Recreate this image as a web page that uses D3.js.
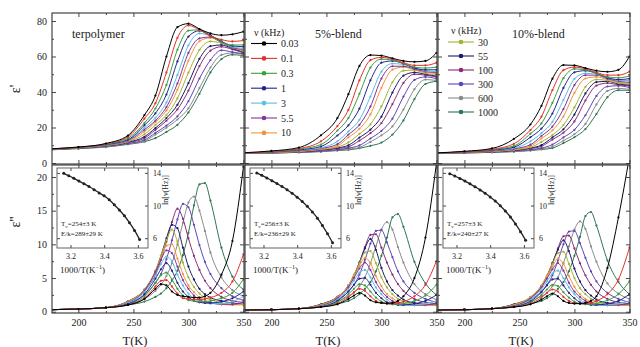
<!DOCTYPE html>
<html><head><meta charset="utf-8">
<script src="https://cdn.jsdelivr.net/npm/d3@7"></script>
<style>body{margin:0;background:#fff}svg text{font-family:"Liberation Serif","DejaVu Serif",serif;fill:#222}</style>
</head><body><svg id="c" width="640" height="347"></svg>
<script>
// ---------- data ----------
const freqLabels = ["0.03","0.1","0.3","1","3","5.5","10","30","55","100","300","600","1000"];
const colors = ["#000000","#e3312f","#3b9e3b","#24248f","#5bbde2","#85349a","#f2923e","#a3b232","#1c1c6a","#8b2a78","#5f45b5","#8a8a8a","#2e7650"];
const panelNames = ["terpolymer","5%-blend","10%-blend"];
const xTicks = [200,250,300,350];
const yTicksReal = [0,20,40,60,80];
const yTicksLoss = [0,5,10,15,20];
const insetXTicks = [3.2,3.4,3.6];
const insetYTicks = [6,10,14];
const tvText = ["254±3 K","256±3 K","257±3 K"];
const ekText = ["289±29 K","236±29 K","240±27 K"];

const tempReal = [175,200,225,245,260,270,280,290,300,310,320,330,340,350];
const tempLoss = [175,200,225,245,260,270,275,280,285,290,295,300,305,310,315,320,330,340,350];

const terpolymerReal = [
 [8,9,11,15.5,27,38,60,76.5,78.5,75.5,73,72,72.5,74],
 [8,8.9,10.8,14.7,25,33.7,51,70.5,77.5,75,71.5,69.5,68.5,69],
 [8,8.8,10.6,13.9,22.6,30.7,44,63.8,74.6,75,71.5,68,66.5,66.5],
 [7.9,8.8,10.4,13.1,21.3,28,38.6,57.2,71.2,74.5,72,68.5,66,65.5],
 [7.9,8.7,10.2,12.9,19.9,25.5,34.1,49.6,66.3,73,71.5,68,65.5,64.5],
 [7.8,8.7,10.1,12.6,18.8,23.9,31.5,44.8,62,70.2,71,68,65,64],
 [7.8,8.6,10,12.2,17.7,23,29.6,41.2,57.6,68.6,70.5,68,65,63.5],
 [7.7,8.5,9.8,12,16.2,21.4,27,36.4,50.9,63.7,68.5,67.5,65,63],
 [7.7,8.5,9.7,11.7,14.8,19.7,25.3,32.8,45,58.7,65.8,66.5,64.5,62.5],
 [7.6,8.4,9.6,11.5,14,18.7,23.8,30.2,40.8,54.6,63.3,65.5,64,62],
 [7.6,8.3,9.4,11,13,17,21.1,26.3,34.8,47.6,58,63.5,62.5,61.5],
 [7.5,8.2,9.2,10.8,12.4,16,19.9,24.5,30.8,42.2,53.8,60.9,62,61],
 [7.4,8.1,9,10.5,12,14,17.5,21.5,28.5,39,51,58.5,61,60.5]
];
const blend5Real = [
 [5.8,6.8,8.7,15.6,25.3,38.8,54.7,60.8,60.5,59,57.5,57,57.5,62],
 [5.7,6.5,8.1,12.2,20.8,29.9,46.6,57.9,59.5,58.5,56.5,55,55,56.5],
 [5.7,6.3,7.8,10.4,18.3,25.3,39,53.7,58.5,58,56,54,53.5,54],
 [5.7,6.2,7.4,9.3,15.5,21.2,30.6,46.6,56.5,57.5,56,53.5,52.5,52.5],
 [5.7,6.1,7.2,8.6,12.2,17.8,24.3,37.4,51.5,56,55.5,53.5,52,51.5],
 [5.7,6,6.9,8.2,10.6,16,21.5,31.8,47.6,54.5,54.5,53,51.5,51],
 [5.7,5.9,6.7,7.8,9.7,14.4,19.2,27.4,42.4,52.6,54,52.5,51,50.5],
 [5.7,5.8,6.4,7.6,9,11.6,16.4,21.8,31.9,45.5,52,52.3,50.5,49.5],
 [5.7,5.8,6.3,7.4,8.5,10,14.3,18.8,26.1,39.7,49.2,51,50,49],
 [5.7,5.8,6.2,7.2,8.1,9.1,12.6,16.8,22.5,33.2,45.1,50,49.5,48.5],
 [5.7,5.7,6.1,6.7,7.5,8.4,9.9,13.8,18.1,25,37.4,46.8,48.5,47.5],
 [5.7,5.7,6,6.5,7.2,7.9,8.8,11.9,15.6,20.6,30.1,41.6,47,46.5],
 [5.7,5.7,6,6.4,7,7.4,8.3,9.7,11.5,16,24,36,44.5,46]
];
const blend10Real = [
 [5.7,6.6,8.2,13.6,21.7,32.2,47.5,55.2,55,53.5,52,51.4,52.5,60],
 [5.7,6.4,7.7,10.8,18.6,26.1,41.1,52.3,54,53,51,49.5,49.5,51.5],
 [5.7,6.2,7.5,9.6,16.5,22.3,33.9,47.8,53,52.5,50.5,48.5,48,49],
 [5.7,6.2,7.2,8.9,14.5,19.4,27.9,42.3,51.1,52,50.5,48,47,47.5],
 [5.7,6.1,7.1,8.4,12.2,16.8,23.2,35.5,47.4,50.5,50,48,46.5,46.5],
 [5.7,6,6.8,8,10.3,15.2,20.5,30.4,43.9,49.5,49.5,47.5,46,45.5],
 [5.7,6,6.6,7.6,9.5,13.8,18.4,26.2,39.5,47.6,48.5,47,45.5,45],
 [5.7,5.9,6.4,7.4,8.8,11.9,15.8,21.4,31.3,42.9,47,46.5,45,44.5],
 [5.7,5.9,6.3,7.2,8.4,10.1,14.4,19,27.3,39.2,45.6,46,44.5,44],
 [5.7,5.8,6.2,7.1,8.1,9.4,13.2,17.1,23.4,35.2,43.6,45,44,43.5],
 [5.7,5.8,6.1,6.9,7.5,8.4,10.4,14.4,18.7,26.9,37.8,43.1,43.5,42.5],
 [5.7,5.7,6.1,6.5,7.2,8,9.2,12.6,16.2,22,33,40.6,42,41.5],
 [5.7,5.7,6,6.4,7,7.6,8.4,11.2,14.5,19.1,27.6,37.1,41,41]
];
const terpolymerLoss = [
 [0.3,0.4,0.6,1.0,1.9,3.4,4.1,3.9,3.0,2.5,2.3,2.2,2.1,2.1,2.3,2.8,5.5,10.5,21.5],
 [0.3,0.4,0.6,1.0,2.0,3.75,4.6,4.7,3.75,2.7,2.0,1.9,1.8,1.8,1.9,2.1,2.8,4.5,8.5],
 [0.3,0.4,0.6,1.0,2.3,4.3,5.4,5.8,4.8,3.4,2.4,1.7,1.6,1.5,1.5,1.6,2.0,2.8,4.8],
 [0.3,0.4,0.6,1.15,2.6,4.9,6.3,7.2,6.1,4.3,3.0,2.2,1.6,1.4,1.3,1.3,1.5,2.0,3.0],
 [0.3,0.4,0.6,1.3,2.9,5.4,7.1,8.2,7.5,5.5,3.9,2.7,2.0,1.5,1.3,1.2,1.2,1.5,2.3],
 [0.3,0.4,0.6,1.35,3.1,5.9,7.7,9.1,8.7,6.7,4.7,3.4,2.4,1.8,1.45,1.3,1.1,1.1,1.4],
 [0.3,0.4,0.6,1.5,3.2,6.0,7.9,9.8,10.0,7.9,5.6,3.9,2.9,2.1,1.7,1.4,1.1,1.0,1.1],
 [0.3,0.4,0.6,1.5,3.3,6.1,8.3,10.6,12.2,10.4,7.3,5.1,3.7,2.7,2.1,1.8,1.3,1.1,1.0],
 [0.3,0.4,0.6,1.55,3.3,6.0,8.3,10.9,12.9,12.4,9.5,6.7,4.8,3.4,2.6,2.1,1.6,1.3,1.1],
 [0.3,0.4,0.6,1.5,3.1,5.5,7.7,10.4,13.3,15.3,13.8,10.9,8.3,6.2,4.6,3.5,2.2,1.6,1.4],
 [0.3,0.4,0.6,1.3,2.5,4.3,5.6,7.8,10.6,13.7,16.0,15.5,12.9,9.9,7.4,5.6,3.5,2.3,1.7],
 [0.3,0.4,0.6,1.2,1.9,3.1,4.0,5.3,7.2,10.0,13.2,16.2,17.1,15.0,12.0,8.8,5.1,3.2,2.3],
 [0.3,0.4,0.6,1.0,1.5,2.2,2.7,3.5,4.6,6.1,8.4,11.7,15.8,18.9,19.1,16.5,9.5,5.2,3.3]
];
const blend5Loss = [
 [0.25,0.3,0.45,0.7,1.1,1.9,2.4,2.8,2.4,1.7,1.4,1.3,1.25,1.3,1.6,2.3,5.0,11.0,22.0],
 [0.25,0.3,0.45,0.7,1.2,2.2,2.9,3.4,3.1,2.3,1.6,1.3,1.2,1.2,1.3,1.5,2.3,4.0,7.5],
 [0.25,0.3,0.45,0.7,1.4,2.6,3.4,4.1,3.9,3.0,2.1,1.5,1.2,1.1,1.1,1.2,1.6,2.4,4.0],
 [0.25,0.3,0.45,0.75,1.6,3.0,4.0,4.9,5.0,4.0,2.8,2.0,1.4,1.2,1.0,1.0,1.2,1.6,2.5],
 [0.25,0.3,0.45,0.83,1.8,3.4,4.6,5.8,6.2,5.1,3.6,2.6,1.8,1.3,1.1,1.0,1.0,1.2,1.6],
 [0.25,0.3,0.45,0.88,2.0,3.65,5.0,6.4,7.3,6.2,4.4,3.1,2.2,1.6,1.25,1.1,0.95,1.0,1.2],
 [0.25,0.3,0.45,0.98,2.1,3.9,5.2,6.8,8.0,7.2,5.3,3.8,2.6,2.0,1.5,1.2,1.0,0.95,1.0],
 [0.25,0.3,0.45,1.05,2.2,3.9,5.5,7.2,8.8,9.0,7.2,5.1,3.6,2.6,1.9,1.5,1.1,1.0,0.95],
 [0.25,0.3,0.45,1.1,2.2,3.9,5.4,7.3,9.4,10.8,9.2,6.5,4.5,3.2,2.4,1.8,1.3,1.1,1.0],
 [0.25,0.3,0.45,1.1,2.2,3.8,5.3,7.3,9.6,11.4,11.5,9.5,7.3,5.5,4.1,3.1,1.9,1.4,1.2],
 [0.25,0.3,0.45,1.0,1.8,3.0,4.0,5.5,7.7,10.1,12.0,12.1,10.3,8.1,6.0,4.5,2.8,1.9,1.4],
 [0.25,0.3,0.45,0.9,1.5,2.3,2.8,3.8,5.1,7.2,9.7,12.2,13.3,12.2,9.6,7.3,4.1,2.6,1.8],
 [0.25,0.3,0.45,0.8,1.2,1.6,2.0,2.6,3.4,4.4,6.0,8.3,11.0,14.0,14.5,12.6,7.4,4.2,2.5]
];
const blend10Loss = [
 [0.25,0.3,0.45,0.7,1.1,1.8,2.3,2.7,2.3,1.6,1.3,1.2,1.2,1.3,1.6,2.3,6.5,14.0,23.0],
 [0.25,0.3,0.45,0.7,1.2,2.1,2.8,3.3,3.0,2.2,1.6,1.3,1.2,1.2,1.3,1.6,2.6,4.8,9.5],
 [0.25,0.3,0.45,0.7,1.35,2.5,3.3,4.0,3.8,2.9,2.1,1.5,1.2,1.1,1.1,1.2,1.7,2.6,4.5],
 [0.25,0.3,0.45,0.75,1.55,2.9,3.9,4.8,4.9,3.9,2.8,2.0,1.4,1.2,1.0,1.0,1.2,1.6,2.6],
 [0.25,0.3,0.45,0.8,1.75,3.3,4.5,5.7,6.1,5.0,3.6,2.6,1.8,1.3,1.1,1.0,1.0,1.2,1.6],
 [0.25,0.3,0.45,0.86,1.95,3.6,4.9,6.3,7.2,6.1,4.3,3.0,2.2,1.6,1.25,1.1,0.95,1.0,1.2],
 [0.25,0.3,0.45,0.97,2.1,3.8,5.2,6.7,7.9,7.1,5.3,3.7,2.6,1.9,1.5,1.2,1.0,0.95,1.0],
 [0.25,0.3,0.45,1.05,2.2,3.9,5.4,7.1,8.7,8.9,7.1,5.0,3.5,2.6,1.9,1.5,1.1,1.0,0.95],
 [0.25,0.3,0.45,1.1,2.1,3.8,5.3,7.2,9.2,10.6,9.0,6.4,4.5,3.2,2.4,1.8,1.3,1.1,1.0],
 [0.25,0.3,0.45,1.1,2.1,3.7,5.2,7.2,9.4,11.2,11.3,9.4,7.2,5.4,4.0,3.0,1.9,1.4,1.2],
 [0.25,0.3,0.45,1.0,1.8,3.0,4.0,5.4,7.6,10.0,11.9,12.0,10.2,8.0,6.0,4.5,2.8,1.9,1.4],
 [0.25,0.3,0.45,0.9,1.5,2.3,2.8,3.8,5.1,7.2,9.7,12.2,13.4,12.3,9.7,7.4,4.2,2.7,1.9],
 [0.25,0.3,0.45,0.8,1.2,1.6,2.0,2.6,3.4,4.4,6.0,8.3,11.1,14.2,14.8,12.8,7.6,4.4,2.6]
];
const invTemp = [3.16,3.19,3.22,3.25,3.28,3.31,3.34,3.37,3.40,3.43,3.46,3.49,3.52,3.55,3.58,3.61];
const lnNuTerpolymer = [13.95,13.65,13.33,13.0,12.68,12.33,11.95,11.55,11.2,10.7,10.1,9.45,8.75,7.9,6.95,5.85];
const lnNuBlend5 = [14.0,13.7,13.38,13.05,12.7,12.33,11.93,11.5,11.02,10.5,9.9,9.22,8.45,7.55,6.55,5.45];
const lnNuBlend10 = [13.9,13.62,13.32,13.0,12.66,12.3,11.92,11.5,11.05,10.55,9.98,9.33,8.6,7.75,6.8,5.75];

// ---------- drawing ----------
const svg = d3.select("#c");
const W = 192;
const panelX = [52,245,438];
const topRange = [164,13], botRange = [313,165];
const realSets = [terpolymerReal, blend5Real, blend10Real];
const lossSets = [terpolymerLoss, blend5Loss, blend10Loss];
const lnSets = [lnNuTerpolymer, lnNuBlend5, lnNuBlend10];
const defs = svg.append("defs");

function styleAxis(g, size){
  g.select(".domain").remove();
  g.selectAll("line").attr("stroke","#333").attr("stroke-width",0.9);
  g.selectAll("text").attr("font-family","Liberation Serif, serif").attr("font-size",size).attr("fill","#222");
}

function drawFrameAxes(g, x, y, x0, yr, majorY, minorY, showX, showY){
  const yb = yr[0], yt = yr[1];
  const ax = d3.axisBottom(x).tickValues(xTicks).tickSize(-4).tickPadding(6).tickFormat(showX? d3.format("d") : "");
  styleAxis(g.append("g").attr("transform",`translate(0,${yb})`).call(ax), 10);
  styleAxis(g.append("g").attr("transform",`translate(0,${yb})`).call(d3.axisBottom(x).tickValues([225,275,325]).tickSize(-2).tickFormat("")),10);
  styleAxis(g.append("g").attr("transform",`translate(0,${yt})`).call(d3.axisTop(x).tickValues(xTicks).tickSize(-4).tickFormat("")),10);
  styleAxis(g.append("g").attr("transform",`translate(0,${yt})`).call(d3.axisTop(x).tickValues([225,275,325]).tickSize(-2).tickFormat("")),10);
  styleAxis(g.append("g").attr("transform",`translate(${x0},0)`).call(d3.axisLeft(y).tickValues(majorY).tickSize(-4).tickPadding(5).tickFormat(showY? d3.format("d"):"")),10);
  styleAxis(g.append("g").attr("transform",`translate(${x0},0)`).call(d3.axisLeft(y).tickValues(minorY).tickSize(-2).tickFormat("")),10);
  styleAxis(g.append("g").attr("transform",`translate(${x0+W},0)`).call(d3.axisRight(y).tickValues(majorY).tickSize(-4).tickFormat("")),10);
  styleAxis(g.append("g").attr("transform",`translate(${x0+W},0)`).call(d3.axisRight(y).tickValues(minorY).tickSize(-2).tickFormat("")),10);
  g.append("rect").attr("x",x0).attr("y",yt).attr("width",W).attr("height",yb-yt)
    .attr("fill","none").attr("stroke","#333").attr("stroke-width",1.1);
}

function drawCurves(g, x, y, temps, sets, clipId){
  const line = d3.line().x((d,i)=>x(temps[i])).y(d=>y(d)).curve(d3.curveMonotoneX);
  const cg = g.append("g").attr("clip-path",`url(#${clipId})`);
  for(let i=sets.length-1;i>=0;i--){
    cg.append("path").attr("d",line(sets[i])).attr("fill","none")
      .attr("stroke",colors[i]).attr("stroke-width",1.0);
    cg.selectAll(null).data(sets[i]).enter().append("circle")
      .attr("cx",(d,j)=>x(temps[j])).attr("cy",d=>y(d)).attr("r",1.1).attr("fill",colors[i]);
  }
}

panelX.forEach((x0,k)=>{
  const g = svg.append("g");
  const x = d3.scaleLinear().domain([176,350.5]).range([x0,x0+W]);
  const yT = d3.scaleLinear().domain([-0.56,84.5]).range(topRange);
  const yB = d3.scaleLinear().domain([-0.19,21.78]).range(botRange);
  defs.append("clipPath").attr("id",`ct${k}`).append("rect").attr("x",x0).attr("y",13).attr("width",W).attr("height",151);
  defs.append("clipPath").attr("id",`cb${k}`).append("rect").attr("x",x0).attr("y",165).attr("width",W).attr("height",148);

  drawCurves(g, x, yT, tempReal, realSets[k], `ct${k}`);
  drawCurves(g, x, yB, tempLoss, lossSets[k], `cb${k}`);
  drawFrameAxes(g, x, yT, x0, topRange, yTicksReal, [10,30,50,70], false, k===0);
  drawFrameAxes(g, x, yB, x0, botRange, yTicksLoss, [2.5,7.5,12.5,17.5], true, k===0);

  const nameX = [72,315,512][k];
  g.append("text").attr("x",nameX).attr("y",38).attr("font-size",12).text(panelNames[k]);
  g.append("text").attr("x",x0+W/2-13).attr("y",345).attr("text-anchor","middle").attr("font-size",12.5).text("T(K)");

  // inset
  const ix0 = x0+5, iw = 91, iy0 = 168, ih = 80;
  const xi = d3.scaleLinear().domain([3.12,3.66]).range([ix0, ix0+iw]);
  const yi = d3.scaleLinear().domain([4.8,14.6]).range([iy0+ih, iy0]);
  const ig = g.append("g");
  ig.append("rect").attr("x",ix0).attr("y",iy0).attr("width",iw).attr("height",ih).attr("fill","#fff");
  const ax1 = ig.append("g").attr("transform",`translate(0,${iy0+ih})`)
    .call(d3.axisBottom(xi).tickValues(insetXTicks).tickSize(-3).tickPadding(5).tickFormat(d3.format(".1f")));
  styleAxis(ax1, 8);
  styleAxis(ig.append("g").attr("transform",`translate(0,${iy0})`).call(d3.axisTop(xi).tickValues(insetXTicks).tickSize(-3).tickFormat("")),8);
  const ay1 = ig.append("g").attr("transform",`translate(${ix0+iw},0)`)
    .call(d3.axisRight(yi).tickValues(insetYTicks).tickSize(-3).tickPadding(5).tickFormat(d3.format("d")));
  styleAxis(ay1, 8);
  styleAxis(ig.append("g").attr("transform",`translate(${ix0},0)`).call(d3.axisLeft(yi).tickValues(insetYTicks).tickSize(-3).tickFormat("")),8);
  ig.append("rect").attr("x",ix0).attr("y",iy0).attr("width",iw).attr("height",ih)
    .attr("fill","none").attr("stroke","#555").attr("stroke-width",0.9);
  const il = d3.line().x((d,i)=>xi(invTemp[i])).y(d=>yi(d)).curve(d3.curveMonotoneX);
  ig.append("path").attr("d",il(lnSets[k])).attr("fill","none").attr("stroke","#222").attr("stroke-width",1.3);
  ig.selectAll(null).data(lnSets[k]).enter().append("circle")
    .attr("cx",(d,i)=>xi(invTemp[i])).attr("cy",d=>yi(d)).attr("r",1.5).attr("fill","#222");
  const t1 = ig.append("text").attr("x",ix0+4).attr("y",iy0+58).attr("font-size",7);
  t1.append("tspan").text("T");
  t1.append("tspan").attr("font-size",5).attr("dy",1.5).text("v");
  t1.append("tspan").attr("dy",-1.5).text("="+tvText[k]);
  ig.append("text").attr("x",ix0+4).attr("y",iy0+68).attr("font-size",7).text("E/k="+ekText[k]);
  ig.append("text").attr("x",ix0+3).attr("y",iy0+ih+25).attr("font-size",9)
    .html("1000/T(K<tspan dy='-4' font-size='6'>−1</tspan><tspan dy='4'>)</tspan>");
  ig.append("text").attr("transform",`translate(${ix0+iw+20},${iy0+22}) rotate(-90)`)
    .attr("text-anchor","middle").attr("font-size",8).text("ln[ν(Hz)]");
});

svg.append("text").attr("transform","translate(20,89) rotate(-90)").attr("text-anchor","middle")
  .attr("font-size",14).text("ε'");
svg.append("text").attr("transform","translate(20,222) rotate(-90)").attr("text-anchor","middle")
  .attr("font-size",14).text("ε''");

function legend(x, y0, step, idx){
  const lg = svg.append("g");
  lg.append("text").attr("x",x+3).attr("y",y0-8).attr("font-size",10).text("ν (kHz)");
  idx.forEach((i,r)=>{
    const yy = y0 + r*step;
    lg.append("line").attr("x1",x).attr("x2",x+26).attr("y1",yy).attr("y2",yy).attr("stroke",colors[i]).attr("stroke-width",1.1);
    lg.append("circle").attr("cx",x+13).attr("cy",yy).attr("r",2.3).attr("fill",colors[i]);
    lg.append("text").attr("x",x+30).attr("y",yy+3.5).attr("font-size",10).text(freqLabels[i]);
  });
}
legend(251, 43.5, 14.9, [0,1,2,3,4,5,6]);
legend(448, 42, 14, [7,8,9,10,11,12]);
</script></body></html>
